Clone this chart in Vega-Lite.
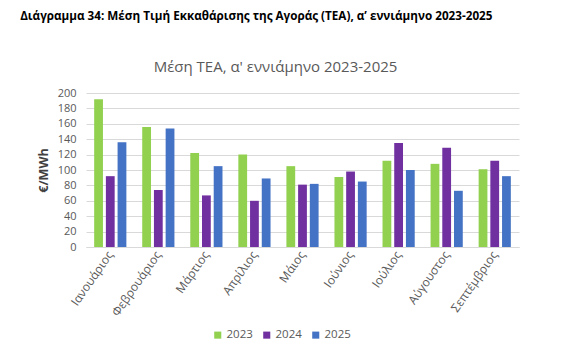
{
  "$schema": "https://vega.github.io/schema/vega-lite/v6.json",
  "padding": {"left": 20, "top": 11, "right": 5, "bottom": 5},
  "background": "white",
  "title": {
    "text": "Διάγραμμα 34: Μέση Τιμή Εκκαθάρισης της Αγοράς (ΤΕΑ), α’ εννιάμηνο 2023-2025",
    "anchor": "start",
    "dx": -17,
    "font": "Open Sans",
    "fontSize": 11.7,
    "fontWeight": "bold",
    "color": "#000000",
    "offset": 37
  },
  "config": {
    "font": "Open Sans",
    "view": {"stroke": null},
    "axis": {"labelColor": "#595959", "labelFont": "Open Sans"},
    "legend": {"labelFont": "Open Sans"}
  },
  "vconcat": [
    {
      "width": 433,
      "height": 154,
      "title": {
        "text": "Μέση ΤΕΑ, α' εννιάμηνο 2023-2025",
        "anchor": "middle",
        "dx": -27,
        "font": "Open Sans",
        "fontSize": 15,
        "fontWeight": "normal",
        "color": "#595959",
        "offset": 12
      },
      "data": {
        "values": [
          {"month": "Ιανουάριος", "year": "2023", "value": 192},
          {"month": "Ιανουάριος", "year": "2024", "value": 92},
          {"month": "Ιανουάριος", "year": "2025", "value": 136},
          {"month": "Φεβρουάριος", "year": "2023", "value": 156},
          {"month": "Φεβρουάριος", "year": "2024", "value": 74},
          {"month": "Φεβρουάριος", "year": "2025", "value": 154},
          {"month": "Μάρτιος", "year": "2023", "value": 122},
          {"month": "Μάρτιος", "year": "2024", "value": 67},
          {"month": "Μάρτιος", "year": "2025", "value": 105},
          {"month": "Απρίλιος", "year": "2023", "value": 120},
          {"month": "Απρίλιος", "year": "2024", "value": 60},
          {"month": "Απρίλιος", "year": "2025", "value": 89},
          {"month": "Μάιος", "year": "2023", "value": 105},
          {"month": "Μάιος", "year": "2024", "value": 81},
          {"month": "Μάιος", "year": "2025", "value": 82},
          {"month": "Ιούνιος", "year": "2023", "value": 91},
          {"month": "Ιούνιος", "year": "2024", "value": 98},
          {"month": "Ιούνιος", "year": "2025", "value": 85},
          {"month": "Ιούλιος", "year": "2023", "value": 112},
          {"month": "Ιούλιος", "year": "2024", "value": 135},
          {"month": "Ιούλιος", "year": "2025", "value": 100},
          {"month": "Αύγουστος", "year": "2023", "value": 108},
          {"month": "Αύγουστος", "year": "2024", "value": 129},
          {"month": "Αύγουστος", "year": "2025", "value": 73},
          {"month": "Σεπτέμβριος", "year": "2023", "value": 101},
          {"month": "Σεπτέμβριος", "year": "2024", "value": 112},
          {"month": "Σεπτέμβριος", "year": "2025", "value": 92}
        ]
      },
      "mark": {"type": "bar"},
      "encoding": {
        "x": {
          "field": "month",
          "type": "nominal",
          "sort": null,
          "scale": {"paddingInner": 0.33, "paddingOuter": 0.17},
          "axis": {
            "title": null,
            "labelAngle": -55,
            "labelAlign": "right",
            "labelBaseline": "middle",
            "labelFontSize": 12,
            "labelPadding": 5,
            "ticks": false,
            "domainColor": "#d9d9d9",
            "grid": false
          }
        },
        "xOffset": {
          "field": "year",
          "type": "nominal",
          "scale": {"paddingInner": 0.25}
        },
        "y": {
          "field": "value",
          "type": "quantitative",
          "scale": {"domain": [0, 200]},
          "axis": {
            "title": "€/MWh",
            "titleFont": "Open Sans",
            "titleFontSize": 12.5,
            "titleFontWeight": "bold",
            "titleColor": "#404040",
            "titlePadding": 7,
            "values": [0, 20, 40, 60, 80, 100, 120, 140, 160, 180, 200],
            "labelFontSize": 11,
            "labelPadding": 10,
            "ticks": false,
            "domain": false,
            "gridColor": "#d9d9d9",
            "gridWidth": 1
          }
        },
        "color": {
          "field": "year",
          "type": "nominal",
          "scale": {"domain": ["2023", "2024", "2025"], "range": ["#92D050", "#7030A0", "#4472C4"]},
          "legend": {
            "title": null,
            "orient": "none",
            "direction": "horizontal",
            "legendX": 126,
            "legendY": 236,
            "symbolType": "square",
            "symbolSize": 50,
            "symbolStrokeWidth": 0,
            "labelFontSize": 11.5,
            "labelColor": "#595959",
            "labelOffset": 3,
            "columnPadding": 8
          }
        }
      }
    }
  ]
}
